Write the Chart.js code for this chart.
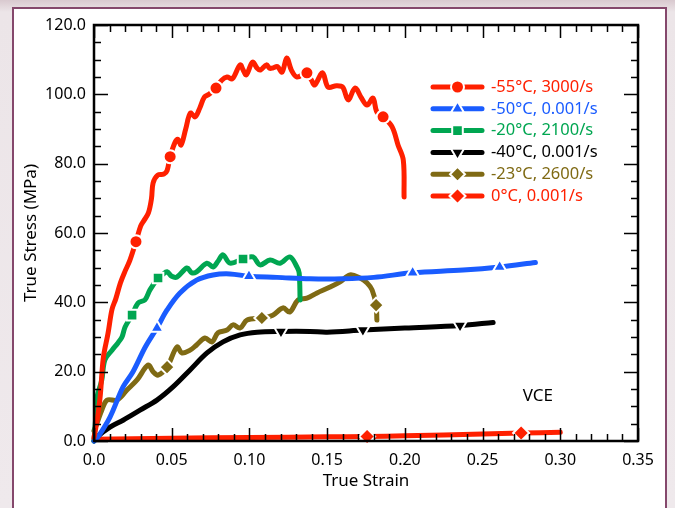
<!DOCTYPE html>
<html lang="en">
<head>
<meta charset="UTF-8">
<title>True Stress vs True Strain</title>
<script src="https://cdn.jsdelivr.net/npm/chart.js"></script>
<style>
  html, body { margin: 0; padding: 0; }
  body {
    width: 675px; height: 508px; overflow: hidden; position: relative;
    background: linear-gradient(to bottom, #d9c9cf 0px, #ece5e8 12px, #efe9ec 100%);
  }
  .panel {
    position: absolute; left: 12px; top: 7px; width: 651px; height: 530px;
    background: #fff; border: 2px solid #85486c;
  }
  #chart { position: absolute; left: 0; top: 0; }
</style>
</head>
<body>
<div class="panel"></div>
<canvas id="chart" width="675" height="508"></canvas>

<script>
// ---- data ----
const xTickLabels = ['0.0', '0.05', '0.10', '0.15', '0.20', '0.25', '0.30', '0.35'];
const yTickLabels = ['0.0', '20.0', '40.0', '60.0', '80.0', '100.0', '120.0'];

const labels = ['-55°C, 3000/s', '-50°C, 0.001/s', '-20°C, 2100/s', '-40°C, 0.001/s', '-23°C, 2600/s', '0°C, 0.001/s'];

const m55Strain = [0.000, 0.002, 0.004, 0.006, 0.009, 0.0116, 0.014, 0.017, 0.020, 0.023, 0.027, 0.030, 0.032, 0.035, 0.037, 0.038, 0.041, 0.045, 0.047, 0.049, 0.052, 0.054, 0.056, 0.059, 0.062, 0.065, 0.068, 0.071, 0.074, 0.0785, 0.082, 0.0856, 0.089, 0.094, 0.096, 0.098, 0.102, 0.105, 0.107, 0.111, 0.113, 0.115, 0.118, 0.121, 0.124, 0.127, 0.1306, 0.137, 0.140, 0.142, 0.147, 0.1506, 0.156, 0.160, 0.1635, 0.168, 0.172, 0.1757, 0.1795, 0.182, 0.186, 0.1918, 0.1956, 0.199, 0.1995];
const m55Stress = [1, 6, 13, 24, 31, 38, 41, 45.6, 49, 52, 57.5, 62, 63.5, 65.8, 70, 74.4, 76.7, 77, 78, 82, 86, 87, 85.4, 90, 94.6, 93.5, 96, 99.2, 100, 101.8, 104, 105, 104.5, 108.5, 107, 105.6, 109.3, 107.5, 107, 108.5, 107.5, 107.6, 108, 106.4, 110.5, 107, 105, 106.2, 104, 102.7, 106.2, 102.1, 102.5, 102.1, 98.4, 101.8, 99, 96.9, 98.9, 94.9, 93.5, 90.6, 85.4, 81, 70.4];
const m55Marks = [0.027, 0.049, 0.0785, 0.137, 0.186];

const m50Strain = [0.000, 0.0026, 0.0103, 0.0187, 0.025, 0.033, 0.0405, 0.047, 0.0553, 0.066, 0.0766, 0.0875, 0.0997, 0.1178, 0.139, 0.160, 0.180, 0.205, 0.2375, 0.261, 0.284];
const m50Stress = [0, 1.2, 6.9, 15.6, 19.9, 27.1, 32.6, 37.8, 42.7, 46.4, 47.9, 48.2, 47.5, 47.2, 46.8, 46.8, 47.2, 48.5, 49.3, 50.2, 51.5];
const m50Marks = [0.0405, 0.0997, 0.205, 0.261];

const m20Strain = [0.000, 0.001, 0.002, 0.005, 0.007, 0.0116, 0.0154, 0.018, 0.020, 0.0245, 0.0283, 0.0328, 0.036, 0.0412, 0.044, 0.047, 0.050, 0.0534, 0.0598, 0.063, 0.066, 0.0727, 0.0766, 0.080, 0.083, 0.0875, 0.0959, 0.1023, 0.1068, 0.1133, 0.1197, 0.126, 0.1306, 0.132, 0.1326];
const m20Stress = [0, 6, 12.7, 17.6, 23.4, 26.2, 28.3, 30, 32.9, 36.3, 39.8, 40.7, 43.6, 47, 48, 48.8, 47.5, 47.3, 49.9, 48.5, 48.8, 51.3, 50.2, 52, 53.7, 51.3, 52.5, 53.1, 50.8, 52.2, 51.3, 53.1, 50.2, 48.5, 40.7];
const m20Marks = [0.0245, 0.0412, 0.0959];

const m40Strain = [0.000, 0.002, 0.0103, 0.0187, 0.0296, 0.0405, 0.0508, 0.0618, 0.0727, 0.083, 0.094, 0.1049, 0.1203, 0.139, 0.150, 0.173, 0.200, 0.2355, 0.2568];
const m40Stress = [0, 1.2, 4, 6, 8.9, 11.8, 15.6, 20.5, 25.4, 28.6, 30.6, 31.4, 31.6, 31.6, 31.4, 32, 32.6, 33.3, 34.2];
const m40Marks = [0.1203, 0.173, 0.2355];

const m23Strain = [0.000, 0.002, 0.005, 0.0084, 0.0148, 0.0212, 0.0277, 0.0348, 0.038, 0.0412, 0.047, 0.0534, 0.0566, 0.0618, 0.066, 0.0714, 0.0759, 0.0798, 0.0856, 0.0894, 0.094, 0.0985, 0.108, 0.115, 0.1216, 0.126, 0.1313, 0.137, 0.1435, 0.1519, 0.1583, 0.1647, 0.1712, 0.1757, 0.1789, 0.1815, 0.182];
const m23Stress = [3, 5.2, 8.9, 11.8, 11.8, 14.7, 17.6, 21.9, 20, 19, 21.3, 27.1, 25.4, 26.2, 27.7, 29.7, 28.6, 31.2, 32, 33.5, 32.6, 34.9, 35.5, 36.3, 38.4, 37.2, 40.7, 41.2, 42.7, 44.4, 45.9, 47.9, 47, 45.6, 43.6, 39.2, 34.9];
const m23Marks = [0.047, 0.108, 0.1815];

const p0Strain = [0.000, 0.05, 0.10, 0.15, 0.1757, 0.20, 0.25, 0.2748, 0.30];
const p0Stress = [0.5, 0.8, 1.0, 1.2, 1.3, 1.5, 2.0, 2.3, 2.5];
const p0Marks = [0.1757, 0.2748];

// ---- styling ----
const FONT = '"Noto Sans", "DejaVu Sans", sans-serif';

function pts(xs, ys) {
    return xs.map((x, i) => ({ x: x, y: ys[i] }));
}

function series(label, xs, ys, marks, color, style, radius, rotation) {
    return {
        label: label,
        data: pts(xs, ys),
        borderColor: color,
        backgroundColor: color,
        borderWidth: 5,
        borderCapStyle: 'round',
        borderJoinStyle: 'round',
        tension: 0.35,
        clip: false,
        pointStyle: style,
        pointRotation: rotation || 0,
        pointBorderColor: '#fff',
        pointBorderWidth: 2,
        pointRadius: ctx => marks.includes(xs[ctx.dataIndex]) ? radius : 0,
        pointHoverRadius: 0,
        markRadius: radius
    };
}

const datasets = [
    series(labels[0], m55Strain, m55Stress, m55Marks, '#ff2000', 'circle', 6.5),
    series(labels[1], m50Strain, m50Stress, m50Marks, '#1a5cff', 'triangle', 7.5),
    series(labels[2], m20Strain, m20Stress, m20Marks, '#00a651', 'rect', 7.5),
    series(labels[3], m40Strain, m40Stress, m40Marks, '#000000', 'triangle', 7.5, 180),
    series(labels[4], m23Strain, m23Stress, m23Marks, '#7f6a14', 'rectRot', 7.5),
    series(labels[5], p0Strain, p0Stress, p0Marks, '#ff2000', 'rectRot', 8)
];

// inward ticks on all four sides, plus the frame
const frameTicks = {
    id: 'frameTicks',
    afterDatasetsDraw(chart) {
        const ctx = chart.ctx;
        const a = chart.chartArea;
        const xs = chart.scales.x, ys = chart.scales.y;
        ctx.save();
        ctx.strokeStyle = '#000';
        ctx.lineWidth = 1.5;
        ctx.beginPath();
        for (let i = 0; i <= 35; i++) {
            const px = Math.round(xs.getPixelForValue(i * 0.01)) + 0.5;
            const len = i % 5 === 0 ? 13 : 7;
            ctx.moveTo(px, a.bottom); ctx.lineTo(px, a.bottom - len);
            ctx.moveTo(px, a.top); ctx.lineTo(px, a.top + len);
        }
        for (let i = 0; i <= 24; i++) {
            const py = Math.round(ys.getPixelForValue(i * 5)) + 0.5;
            const len = i % 4 === 0 ? 14 : 7;
            ctx.moveTo(a.left, py); ctx.lineTo(a.left + len, py);
            ctx.moveTo(a.right, py); ctx.lineTo(a.right - len, py);
        }
        ctx.stroke();
        ctx.lineWidth = 2.5;
        ctx.strokeRect(a.left, a.top, a.right - a.left, a.bottom - a.top);
        ctx.restore();
    }
};

// legend, axis titles and the VCE note
const notes = {
    id: 'notes',
    afterDraw(chart) {
        const ctx = chart.ctx;
        const a = chart.chartArea;
        ctx.save();
        ctx.font = '16.5px ' + FONT;
        ctx.textBaseline = 'middle';
        chart.data.datasets.forEach((ds, i) => {
            const y = 87 + i * 21.8;
            const x0 = 433, x1 = 482, xm = (x0 + x1) / 2;
            ctx.strokeStyle = ds.borderColor;
            ctx.lineWidth = 5;
            ctx.lineCap = 'round';
            ctx.beginPath();
            ctx.moveTo(x0, y); ctx.lineTo(x1, y);
            ctx.stroke();
            ctx.fillStyle = ds.backgroundColor;
            ctx.strokeStyle = '#fff';
            ctx.lineWidth = 2;
            Chart.helpers.drawPoint(ctx, {
                pointStyle: ds.pointStyle, rotation: ds.pointRotation,
                radius: ds.markRadius, borderWidth: 2
            }, xm, y);
            ctx.fillStyle = ds.borderColor;
            ctx.textAlign = 'left';
            ctx.fillText(ds.label, 491, y);
        });

        ctx.fillStyle = '#000';
        ctx.textAlign = 'center';
        ctx.font = '17px ' + FONT;
        ctx.fillText('VCE', chart.scales.x.getPixelForValue(0.2855), chart.scales.y.getPixelForValue(13));
        ctx.fillText('True Strain', (a.left + a.right) / 2, 481);
        ctx.translate(31, (a.top + a.bottom) / 2);
        ctx.rotate(-Math.PI / 2);
        ctx.fillText('True Stress (MPa)', 0, 0);
        ctx.restore();
    }
};

new Chart(document.getElementById('chart'), {
    type: 'line',
    data: { datasets: datasets },
    options: {
        responsive: false,
        animation: false,
        devicePixelRatio: 1,
        layout: { padding: { top: 25, right: 37, left: 0, bottom: 0 } },
        plugins: { legend: { display: false }, tooltip: { enabled: false } },
        scales: {
            x: {
                type: 'linear', min: 0, max: 0.35,
                afterFit: s => { s.height = 67; },
                grid: { display: false, drawTicks: false },
                border: { display: false },
                ticks: {
                    stepSize: 0.05, padding: 10, color: '#000',
                    font: { family: FONT, size: 16 },
                    callback: (v, i) => xTickLabels[i]
                }
            },
            y: {
                type: 'linear', min: 0, max: 120,
                afterFit: s => { s.width = 94; },
                grid: { display: false, drawTicks: false },
                border: { display: false },
                ticks: {
                    stepSize: 20, padding: 8, color: '#000',
                    font: { family: FONT, size: 16 },
                    callback: (v, i) => yTickLabels[i]
                }
            }
        }
    },
    plugins: [frameTicks, notes]
});
</script>
</body>
</html>
